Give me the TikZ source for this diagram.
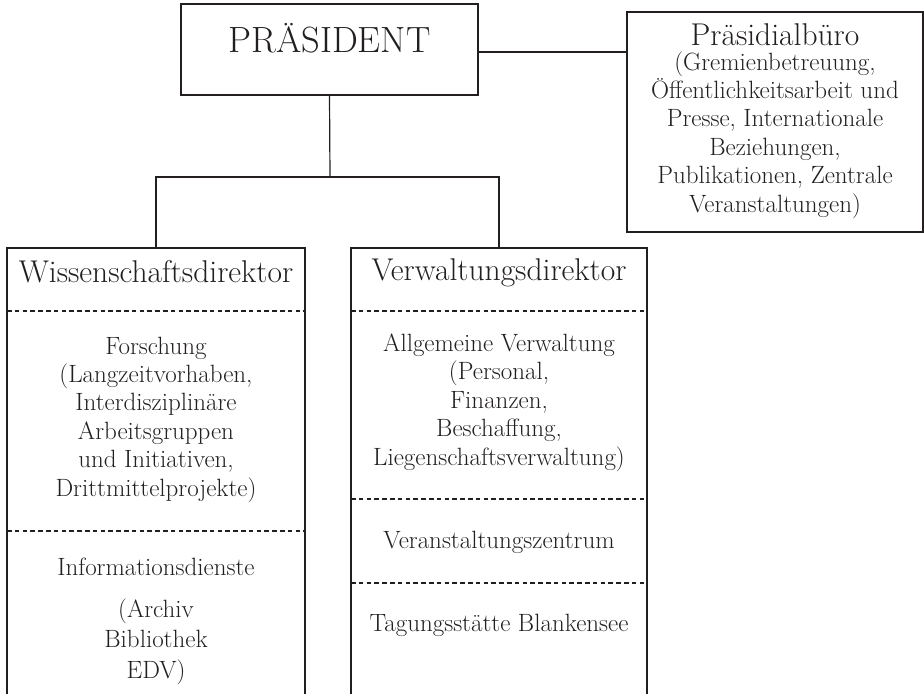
\documentclass[tikz,border=0pt]{standalone}
\usepackage{fontspec}
\setmainfont{Latin Modern Roman}
\definecolor{ink}{HTML}{231F20}
\tikzset{
  x=1pt, y=1pt,
  frame/.style={draw=ink, line width=1.2pt},
  hidden/.style={inner sep=0pt, outer sep=0pt},
  sep/.style={draw=ink, line width=1.8pt, dash pattern=on 4.5pt off 3.3pt},
  conn/.style={draw=ink, line width=1.2pt},
  head/.style={text=ink, font=\fontsize{31.5}{36}\selectfont, anchor=base, inner sep=0pt},
  body/.style={text=ink, font=\fontsize{25}{28.4}\selectfont, anchor=base, align=center, inner sep=0pt},
}
\begin{document}
\begin{tikzpicture}
\useasboundingbox (0,0) rectangle (924,-694);
% boxes
\node[frame, hidden, minimum width=297pt, minimum height=91pt] (pres) at (329.5,-49.5) {};
\node[frame, hidden, minimum width=296pt, minimum height=220pt] (buero) at (775,-122) {};
\node[hidden, minimum width=298pt, minimum height=446pt] (wiss) at (156,-471) {};
\node[hidden, minimum width=296pt, minimum height=446pt] (verw) at (499,-471) {};
\draw[frame] (wiss.south west) |- (wiss.north east) -- (wiss.south east);
\draw[frame] (verw.south west) |- (verw.north east) -- (verw.south east);
% separators
\draw[sep] (wiss.west |- 0,-311) -- (wiss.east |- 0,-311);
\draw[sep] (wiss.west |- 0,-531) -- (wiss.east |- 0,-531);
\draw[sep] (verw.west |- 0,-311) -- (verw.east |- 0,-311);
\draw[sep] (verw.west |- 0,-499) -- (verw.east |- 0,-499);
\draw[sep] (verw.west |- 0,-583) -- (verw.east |- 0,-583);
% connectors
\coordinate (bus) at (330,-177);
\draw[conn] (pres.south) -- (bus);
\draw[conn] (wiss.north) |- (bus);
\draw[conn] (verw.north) |- (bus);
\draw[conn] (pres.east |- 0,-52) -- (buero.west |- 0,-52);
% texts (multi-line nodes: base = baseline of last line)
\node[text=ink, font=\fontsize{36.5}{42}\selectfont, anchor=base, inner sep=0pt] (tpres) at (329.5,-52) {PRÄSIDENT};
\node[head] (tbuero) at (775,-45) {Präsidialbüro};
\node[body] (tbuero2) at (775,-212) {(Gremienbetreuung,\\Öffentlichkeitsarbeit und\\Presse, Internationale\\Beziehungen,\\Publikationen, Zentrale\\Veranstaltungen)};
\node[head] (twiss) at (156,-282) {Wissenschaftsdirektor};
\node[body] (tforsch) at (156,-496) {Forschung\\(Langzeitvorhaben,\\Interdisziplinäre\\Arbeitsgruppen\\und Initiativen,\\Drittmittelprojekte)};
\node[body] (tinfo) at (156,-575) {Informationsdienste};
\node[body] (tinfo2) at (156,-678) {(Archiv\\[2pt]Bibliothek\\[2pt]EDV)};
\node[head] (tverw) at (499,-280) {Verwaltungsdirektor};
\node[body] (tallg) at (499,-465) {Allgemeine Verwaltung\\(Personal,\\Finanzen,\\Beschaffung,\\Liegenschaftsverwaltung)};
\node[body] (tver) at (499,-548) {Veranstaltungszentrum};
\node[body] (ttag) at (499,-631) {Tagungsstätte Blankensee};
\end{tikzpicture}
\end{document}
